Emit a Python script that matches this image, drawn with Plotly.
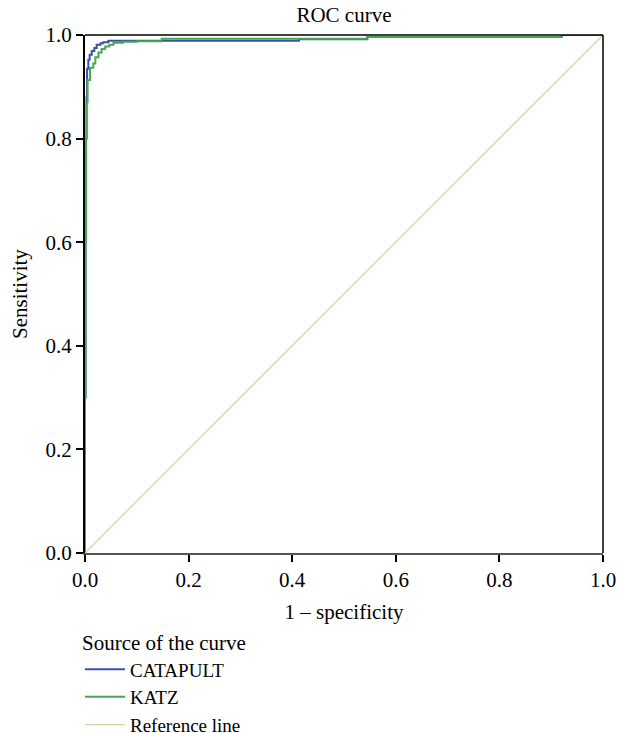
import plotly.graph_objects as go

# ROC points (1 - specificity, sensitivity)
catapult_fpr = [0.0, 0.001, 0.002, 0.003, 0.004, 0.0064, 0.009, 0.013, 0.018, 0.0225,
                0.030, 0.035, 0.045, 0.051, 0.413, 0.413, 0.545, 0.545, 0.920, 0.920, 1.0]
catapult_tpr = [0.0, 0.30, 0.60, 0.80, 0.880, 0.935, 0.952, 0.962, 0.969, 0.975,
                0.981, 0.984, 0.986, 0.989, 0.989, 0.992, 0.992, 0.996, 0.996, 1.0, 1.0]

katz_fpr = [0.0, 0.001, 0.002, 0.003, 0.005, 0.0097, 0.016, 0.020, 0.026, 0.032, 0.039,
            0.047, 0.055, 0.073, 0.100, 0.148, 0.148, 0.545, 0.545, 0.920, 0.920, 1.0]
katz_tpr = [0.0, 0.30, 0.60, 0.80, 0.870, 0.913, 0.937, 0.945, 0.957, 0.966, 0.973,
            0.978, 0.981, 0.985, 0.987, 0.988, 0.993, 0.993, 0.996, 0.996, 1.0, 1.0]

ref_x = [0.0, 1.0]
ref_y = [0.0, 1.0]

tick_vals = [0.0, 0.2, 0.4, 0.6, 0.8, 1.0]
tick_text = ["0.0", "0.2", "0.4", "0.6", "0.8", "1.0"]

font = "Liberation Serif, Times New Roman, serif"

fig = go.Figure()

fig.add_trace(go.Scatter(
    x=catapult_fpr, y=catapult_tpr, mode="lines", name="CATAPULT",
    line=dict(color="#3b52a4", width=2, shape="vh"),
))
fig.add_trace(go.Scatter(
    x=katz_fpr, y=katz_tpr, mode="lines", name="KATZ",
    line=dict(color="#45a854", width=2, shape="vh"),
))
fig.add_trace(go.Scatter(
    x=ref_x, y=ref_y, mode="lines", name="Reference line",
    line=dict(color="#d9d4a8", width=1.3),
))

fig.update_xaxes(
    range=[0, 1], tickvals=tick_vals, ticktext=tick_text,
    ticks="outside", ticklen=7, tickwidth=2, tickcolor="black",
    showline=True, linecolor="#555555", linewidth=2,
    showgrid=False, zeroline=False,
    title=dict(text="1 – specificity", font=dict(size=21, color="black"), standoff=13),
    tickfont=dict(size=21, color="black"),
)
fig.update_yaxes(
    range=[0, 1], tickvals=tick_vals, ticktext=tick_text,
    ticks="outside", ticklen=7, tickwidth=2, tickcolor="black",
    showline=True, linecolor="black", linewidth=2,
    showgrid=False, zeroline=False,
    tickfont=dict(size=21, color="black"),
)

# thin frame on top and right
fig.add_shape(type="line", xref="x domain", yref="y domain", x0=0, x1=1, y0=1, y1=1,
              line=dict(color="black", width=1.5))
fig.add_shape(type="line", xref="x domain", yref="y domain", x0=1, x1=1, y0=0, y1=1,
              line=dict(color="black", width=1.5))

# y axis title sits further left than plotly's standoff allows
fig.add_annotation(
    text="Sensitivity", textangle=-90, xref="paper", yref="paper",
    x=-65 / 518, y=0.5, xanchor="center", yanchor="middle", showarrow=False,
    font=dict(size=21, color="black"),
)

fig.update_layout(
    width=617, height=733,
    margin=dict(l=85, r=14, t=35, b=180, autoexpand=False),
    paper_bgcolor="white", plot_bgcolor="white",
    font=dict(family=font, size=21, color="black"),
    title=dict(text="ROC curve", x=0.5575, xanchor="center", y=0.9795, yanchor="middle",
               font=dict(size=21, color="black")),
    showlegend=True,
    legend=dict(
        title=dict(text="Source of the curve", side="top", font=dict(size=21)),
        x=-5 / 518, xanchor="left", y=-70 / 518, yanchor="top",
        font=dict(size=19), bgcolor="rgba(0,0,0,0)",
        tracegroupgap=0, itemwidth=40,
    ),
)

# drop the default body margin so the figure fills the window
fig.write_html(
    "out.html",
    config={"displayModeBar": False, "displaylogo": False},
    post_script="document.body.style.margin='0';",
)
